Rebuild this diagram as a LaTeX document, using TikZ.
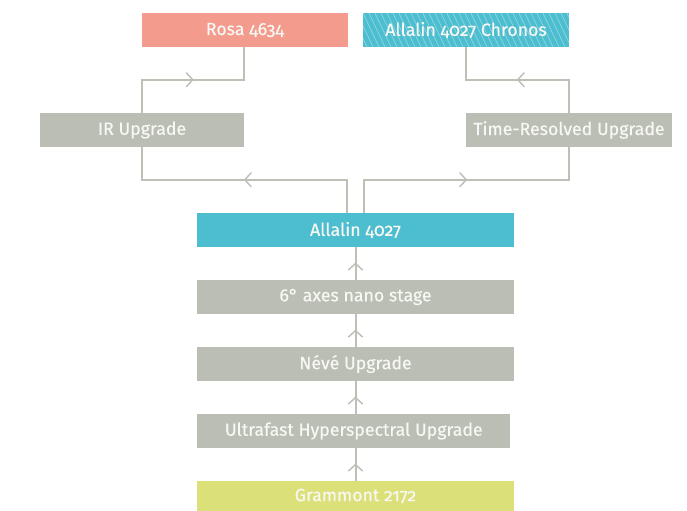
\documentclass[tikz,border=0pt]{standalone}
\usepackage{fontspec}
\setmainfont{Fira Sans}[Numbers=OldStyle]
\newfontfamily\lblfont{Fira Sans}[Numbers=OldStyle,FakeBold=0.45]
\usetikzlibrary{decorations.markings}
\definecolor{boxgray}{HTML}{BBBEB4}
\definecolor{linegray}{HTML}{BDC0B6}
\definecolor{rosa}{HTML}{F39B8C}
\definecolor{allalin}{HTML}{4DBED0}
\definecolor{hatch}{HTML}{8DD6E2}
\definecolor{grammont}{HTML}{DCE078}
\definecolor{txt}{HTML}{F7F7F3}
\tikzset{
  lbl/.style={text=txt, font=\lblfont\fontsize{13.3}{15}\selectfont},
  box/.style={draw=none, lbl, inner sep=0pt},
  conn/.style={draw=linegray, line width=1.5pt,
    postaction={decorate, decoration={markings,
      mark=at position 0.5 with {\draw[linegray,line width=1.1pt,line cap=round,line join=miter] (-4.8pt,5.2pt) -- (0,0) -- (-4.8pt,-5.2pt);}}}},
}
\begin{document}
\begin{tikzpicture}[x=0.75pt,y=-0.75pt]
\useasboundingbox (0,0) rectangle (687,511);
% boxes
\node[box, fill=rosa, minimum width=206*0.75pt, minimum height=34*0.75pt] (rosa) at (245,30) {Rosa 4634};
\node[box, fill=allalin, minimum width=206*0.75pt, minimum height=34*0.75pt] (chronos) at (466,30) {};
\begin{scope}
\clip (363,13) rectangle (569,47);
\foreach \i in {0,6,...,260} {
  \draw[hatch, line width=0.5pt] (363+\i-30,13) -- (363+\i-30+16,47);
}
\end{scope}
\node[lbl] at (chronos) {Allalin 4027 Chronos};
\node[box, fill=boxgray, minimum width=204*0.75pt, minimum height=34*0.75pt] (ir) at (142,130) {IR Upgrade};
\node[box, fill=boxgray, minimum width=206*0.75pt, minimum height=34*0.75pt] (tr) at (569,130) {Time-Resolved Upgrade};
\node[box, fill=allalin, minimum width=317*0.75pt, minimum height=34*0.75pt] (all) at (355.5,230) {Allalin 4027};
\node[box, fill=boxgray, minimum width=317*0.75pt, minimum height=34*0.75pt] (nano) at (355.5,297) {6° axes nano stage};
\node[box, fill=boxgray, minimum width=317*0.75pt, minimum height=34*0.75pt] (neve) at (355.5,364) {Névé Upgrade};
\node[box, fill=boxgray, minimum width=313*0.75pt, minimum height=34*0.75pt, anchor=west] (ultra) at (197,431) {Ultrafast Hyperspectral Upgrade};
\node[box, fill=grammont, minimum width=317*0.75pt, minimum height=30*0.75pt] (gram) at (355.5,496) {Grammont 2172};
% connectors
\coordinate (a1) at ([xshift=-8.5*0.75pt]all.north);
\coordinate (a2) at ([xshift=8.5*0.75pt]all.north);
\coordinate (r1) at ([xshift=-1*0.75pt]rosa.south);
\draw[conn] (a1) -- ++(0,-33) -| (ir.south);
\draw[conn] (a2) -- ++(0,-33) -| (tr.south);
\draw[conn] (ir.north) -- ++(0,-33) -| (r1);
\draw[conn] (tr.north) -- ++(0,-33) -| (chronos.south);
\draw[conn] (gram.north) -- (gram.north |- ultra.south);
\draw[conn] (gram.north |- ultra.north) -- (neve.south);
\draw[conn] (neve.north) -- (nano.south);
\draw[conn] (nano.north) -- (all.south);
\end{tikzpicture}
\end{document}
